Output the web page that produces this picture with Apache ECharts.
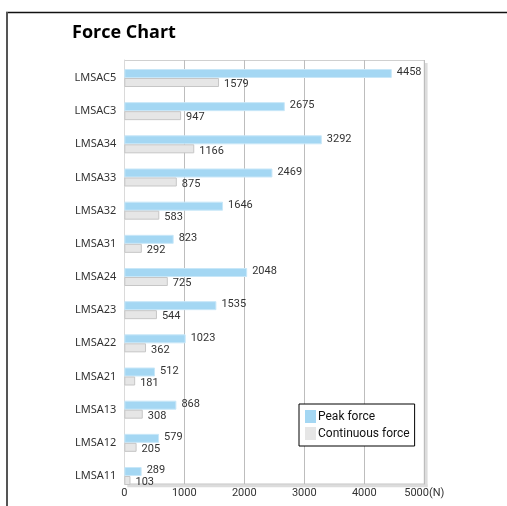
<!DOCTYPE html>
<html>
<head>
<meta charset="utf-8">
<script src="https://cdn.jsdelivr.net/npm/echarts@6/dist/echarts.min.js"></script>
<style>
html,body{margin:0;padding:0;background:#fff;}
#c{width:507px;height:506px;}
</style>
</head>
<body>
<div id="c"></div>
<script>
const categories = ['LMSAC5','LMSAC3','LMSA34','LMSA33','LMSA32','LMSA31','LMSA24','LMSA23','LMSA22','LMSA21','LMSA13','LMSA12','LMSA11'];
const peakForce = [4458,2675,3292,2469,1646,823,2048,1535,1023,512,868,579,289];
const continuousForce = [1579,947,1166,875,583,292,725,544,362,181,308,205,103];
const xTicks = [0,1000,2000,3000,4000,5000];
const seriesNames = ['Peak force','Continuous force'];

const chart = echarts.init(document.getElementById('c'), null, {renderer:'canvas'});
const L = 124.3, W = 300;
const valFont = 'Roboto, "DejaVu Sans Condensed", sans-serif';
chart.setOption({
  animation:false,
  backgroundColor:'#fff',
  grid:[
    {left:L, width:W, top:60, height:424, containLabel:false},
    {left:L, width:W, top:61.4, height:431.2, containLabel:false}
  ],
  xAxis:[
    {gridIndex:0, type:'value', min:xTicks[0], max:xTicks[xTicks.length-1], interval:1000,
     axisLine:{show:false}, axisTick:{show:false},
     splitLine:{show:true, lineStyle:{color:'#bdbdbd', width:1}},
     axisLabel:{margin:4, fontFamily:valFont, fontSize:11, color:'#333',
       formatter:v => v===5000 ? '5000(N)' : String(v)}},
    {gridIndex:1, type:'value', min:0, max:5000, show:false}
  ],
  yAxis:[
    {gridIndex:0, type:'value', min:0, max:1, show:true, axisLabel:{show:false}, axisTick:{show:false},
     splitLine:{show:false}, axisLine:{show:true, lineStyle:{color:'#dadada'}}},
    {gridIndex:1, type:'category', data:categories, inverse:true,
     axisLine:{show:false}, axisTick:{show:false}, splitLine:{show:false},
     axisLabel:{margin:8, fontFamily:'"Noto Sans", sans-serif', fontSize:11, color:'#333'}}
  ],
  legend:{
    orient:'vertical', left:299, top:404, data:seriesNames,
    icon:'rect', itemWidth:11, itemHeight:13, itemGap:4,
    padding:[6,5,6,6], borderColor:'#000', borderWidth:1, backgroundColor:'#fff',
    textStyle:{fontFamily:valFont, fontSize:12, color:'#111', padding:[0,0,0,-3], lineHeight:13},
    itemStyle:{borderWidth:0}
  },
  series:[
    {name:seriesNames[0], type:'bar', xAxisIndex:1, yAxisIndex:1, data:peakForce,
     barWidth:9, barGap:'0%',
     itemStyle:{color:'#a4d7f3', borderColor:'#c8e7f8', borderWidth:1},
     label:{show:true, position:'right', distance:5, offset:[0,-1], fontFamily:valFont, fontSize:11, color:'#333'}},
    {name:seriesNames[1], type:'bar', xAxisIndex:1, yAxisIndex:1, data:continuousForce,
     barWidth:9, barGap:'0%',
     itemStyle:{color:'#e6e6e6', borderColor:'#c6c6c6', borderWidth:1},
     label:{show:true, position:'right', distance:5, offset:[0,2], fontFamily:valFont, fontSize:11, color:'#333'}}
  ],
  graphic:[
    {type:'line', shape:{x1:6, y1:12.5, x2:507, y2:12.5}, style:{stroke:'#111', lineWidth:1.5}, silent:true},
    {type:'line', shape:{x1:7, y1:12, x2:7, y2:506}, style:{stroke:'#555', lineWidth:2}, silent:true},
    {type:'line', shape:{x1:L, y1:60.5, x2:L+W, y2:60.5}, style:{stroke:'#d0d0d0', lineWidth:1}, silent:true},
    {type:'line', shape:{x1:L+W+1.8, y1:63, x2:L+W+1.8, y2:487}, style:{stroke:'#dcdcdc', lineWidth:3}, silent:true},
    {type:'line', shape:{x1:L+3, y1:485.8, x2:L+W+3.3, y2:485.8}, style:{stroke:'#dcdcdc', lineWidth:3}, silent:true},
    {type:'line', shape:{x1:L+W, y1:60, x2:L+W, y2:484.5}, style:{stroke:'#bdbdbd', lineWidth:1}, silent:true},
    {type:'line', shape:{x1:L, y1:484, x2:L+W, y2:484}, style:{stroke:'#c4c4c4', lineWidth:1}, silent:true},
    {type:'text', x:72, y:33, style:{text:'Force Chart', fontFamily:'"Open Sans", Lato, sans-serif', fontWeight:'bold', fontSize:18, fill:'#000', textVerticalAlign:'middle'}, silent:true}
  ]
});
</script>
</body>
</html>
